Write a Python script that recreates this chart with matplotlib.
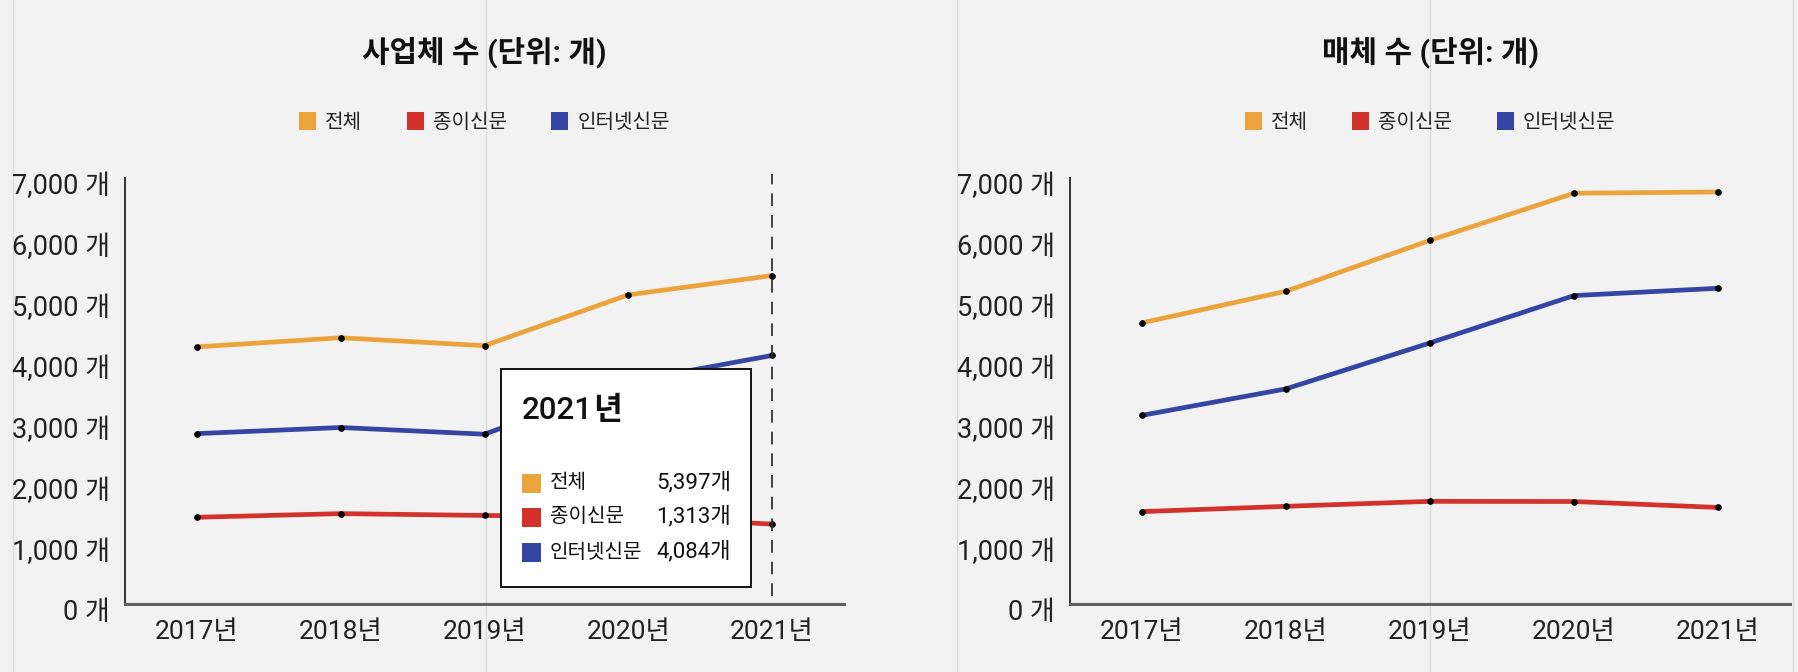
import matplotlib
matplotlib.use("Agg")
import matplotlib.pyplot as plt
from matplotlib.patches import Patch, Rectangle
from matplotlib.lines import Line2D
from matplotlib.text import Annotation
from matplotlib.ticker import FuncFormatter, MultipleLocator
from matplotlib.transforms import ScaledTranslation

plt.rcParams['font.family'] = ['Roboto', 'Noto Sans CJK KR', 'DejaVu Sans']

years = ['2017년', '2018년', '2019년', '2020년', '2021년']
series_names = ['전체', '종이신문', '인터넷신문']
series_colors = ['#eba43b', '#d3312b', '#3545a3']

# 사업체 수
biz_total = [4225, 4375, 4245, 5080, 5397]
biz_paper = [1425, 1485, 1455, 1430, 1313]
biz_internet = [2800, 2900, 2790, 3650, 4084]

# 매체 수
media_total = [4620, 5140, 5975, 6750, 6770]
media_paper = [1518, 1605, 1687, 1684, 1586]
media_internet = [3100, 3535, 4290, 5068, 5188]

titles = ['사업체 수 (단위: 개)', '매체 수 (단위: 개)']
tooltip_title = '2021년'

W, H = 1798, 672
BG = '#f2f2f2'
fig = plt.figure(figsize=(W / 100, H / 100), dpi=100, facecolor=BG)

def fx(px):
    return px / W

def fy(py):
    return 1 - py / H

# faint page guide lines
for gx in [13, 486, 957, 1430, 1793]:
    fig.add_artist(Line2D([fx(gx), fx(gx)], [0, 1], color='#dadada', lw=1.0,
                          transform=fig.transFigure, zorder=-5))

ax_top, ax_bot = 178, 604
axes_px = [(125, 844), (1070, 1790)]
datasets = [
    [biz_total, biz_paper, biz_internet],
    [media_total, media_paper, media_internet],
]

axes = []
for (x0, x1), data, title in zip(axes_px, datasets, titles):
    ax = fig.add_axes([fx(x0), fy(ax_bot), fx(x1 - x0), (ax_bot - ax_top) / H])
    ax.set_facecolor('none')
    xs = list(range(len(years)))
    for vals, color in zip(data, series_colors):
        ax.plot(xs, vals, color=color, lw=3.4, solid_capstyle='butt', zorder=3)
        ax.plot(xs, vals, 'o', color='black', ms=3.8, zorder=4)
    ax.set_xlim(-0.5, len(years) - 0.5)
    ax.set_ylim(0, 7000)
    ax.yaxis.set_major_locator(MultipleLocator(1000))
    ax.yaxis.set_major_formatter(FuncFormatter(lambda v, p: f"{v:,.0f} 개"))
    ax.set_xticks(xs)
    ax.set_xticklabels(years)
    ax.tick_params(axis='y', length=0, pad=11, labelsize=19.5, labelcolor='#222222')
    ax.tick_params(axis='x', length=0, pad=11.5, labelsize=19, labelcolor='#222222')
    for lab in ax.get_yticklabels():
        lab.set_transform(lab.get_transform() + ScaledTranslation(0, -6 / 100, fig.dpi_scale_trans))
    for s in ['top', 'right']:
        ax.spines[s].set_visible(False)
    ax.spines['left'].set_color('#333333')
    ax.spines['left'].set_linewidth(1.4)
    ax.spines['bottom'].set_color('#606060')
    ax.spines['bottom'].set_linewidth(2.2)
    cx = (x0 + x1) / 2
    fig.text(fx(cx), fy(52), title, ha='center', va='center', fontsize=21.5,
             fontweight='bold', color='#111111')
    handles = [Patch(facecolor=c, edgecolor='none') for c in series_colors]
    ax.legend(handles, series_names, loc='center', bbox_to_anchor=(0.5, (ax_bot - 122) / (ax_bot - ax_top)),
              ncol=3, frameon=False, fontsize=14.5, handlelength=0.85, handleheight=0.95,
              handletextpad=0.45, columnspacing=2.2, labelcolor='#222222')
    axes.append(ax)

# hover line and tooltip on left chart
axL = axes[0]
axL.axvline(len(years) - 1, ymin=0.019, ymax=1.009, color='#333333', lw=1.3,
            dashes=(7, 5), clip_on=False, zorder=5)

bx0, by0, bx1, by1 = 501, 369, 751, 587
fig.add_artist(Rectangle((fx(bx0), fy(by1)), fx(bx1 - bx0), (by1 - by0) / H,
                         transform=fig.transFigure, facecolor='white',
                         edgecolor='#111111', lw=1.4, zorder=10))
t_num = fig.text(fx(522), fy(419), tooltip_title[:-1], ha='left', va='baseline',
                 fontsize=22.5, fontweight='medium', color='#111111', zorder=11)
fig.add_artist(Annotation(tooltip_title[-1], xy=(1, 0), xycoords=t_num,
                          xytext=(0, 0), textcoords='offset points',
                          ha='left', va='bottom', fontsize=22.5,
                          fontweight='bold', color='#111111', zorder=11))
row_y = [483, 517, 552]
for name, color, vals, ry in zip(series_names, series_colors, datasets[0], row_y):
    fig.add_artist(Rectangle((fx(522), fy(ry + 9.5)), fx(19), 19 / H,
                             transform=fig.transFigure, facecolor=color,
                             edgecolor='none', zorder=11))
    fig.text(fx(550), fy(ry), name, ha='left', va='center', fontsize=14.5,
             color='#111111', zorder=11)
    fig.text(fx(731), fy(ry), f"{vals[-1]:,}개", ha='right', va='center', fontsize=16,
             color='#111111', zorder=11)

fig.savefig('out.png', dpi=100, facecolor=BG)
